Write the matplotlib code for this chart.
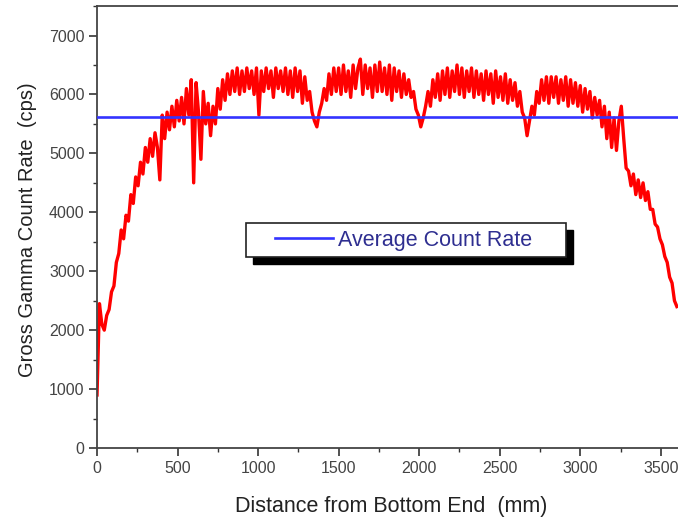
import numpy as np
import matplotlib
matplotlib.use("Agg")
import matplotlib.pyplot as plt
from matplotlib.patches import Rectangle
from matplotlib.ticker import MultipleLocator

plt.rcParams['font.family'] = ['Liberation Sans', 'DejaVu Sans']

# distance along the rod (mm), one reading every 15 mm
distance = np.arange(0, 3601, 15)

# gross gamma count rate (cps)
count_rate = [
    900, 2450, 2100, 2000, 2250, 2350, 2650, 2750, 3150, 3300,
    3700, 3550, 3950, 3850, 4300, 4150, 4600, 4450, 4850, 4650,
    5100, 4850, 5250, 4950, 5350, 5100, 4550, 5650, 5250, 5700,
    5400, 5800, 5450, 5900, 5550, 5950, 5500, 6100, 5650, 6250,
    4500, 6200, 5700, 4900, 6050, 5500, 5850, 5300, 5800, 5500,
    6100, 5750, 6250, 5900, 6350, 6000, 6400, 6050, 6450, 6000,
    6400, 6050, 6450, 6100, 6400, 6000, 6450, 5650, 6400, 6050,
    6450, 6100, 6400, 5950, 6450, 6100, 6400, 6050, 6450, 6000,
    6400, 5950, 6450, 6050, 6400, 5850, 6300, 5900, 6050, 5700,
    5550, 5450, 5700, 5850, 6100, 5900, 6350, 6000, 6450, 6050,
    6450, 6000, 6500, 6050, 6400, 5950, 6500, 6100, 6450, 6600,
    6000, 6500, 6100, 6450, 5950, 6500, 6050, 6550, 6050, 6450,
    6000, 6500, 5900, 6450, 6050, 6400, 5950, 6350, 6000, 6250,
    5950, 6050, 5750, 5650, 5450, 5600, 5800, 6050, 5800, 6250,
    5950, 6350, 5900, 6400, 6000, 6450, 5950, 6400, 6050, 6500,
    6000, 6450, 5950, 6400, 6050, 6450, 5950, 6400, 6000, 6350,
    5900, 6400, 6000, 6350, 5850, 6400, 5950, 6300, 5900, 6350,
    5850, 6250, 5900, 6200, 5800, 6050, 5700, 5600, 5300, 5550,
    5800, 5650, 6050, 5850, 6250, 5900, 6300, 5850, 6300, 5950,
    6300, 5850, 6250, 5900, 6300, 5800, 6250, 5850, 6200, 5800,
    6150, 5700, 6100, 5750, 6050, 5600, 5950, 5650, 5900, 5450,
    5800, 5250, 5700, 5100, 5600, 5050, 5550, 5800, 5250, 4750,
    4700, 4450, 4650, 4300, 4550, 4250, 4500, 4200, 4350, 4050,
    4050, 3800, 3750, 3550, 3450, 3250, 3150, 2900, 2800, 2500,
    2400,
]

average_rate = 5620

fig = plt.figure(figsize=(6.78, 5.23), dpi=100)
ax = fig.add_axes([0.1431, 0.1434, 0.879, 0.845])

ax.plot(distance, count_rate, color='#ff0000', lw=2.4, zorder=2)
avg_line = ax.axhline(average_rate, color='#3333ff', lw=1.9, zorder=3,
                      label='Average Count Rate')

ax.set_xlim(0, 3700)
ax.set_ylim(0, 7500)
ax.xaxis.set_major_locator(MultipleLocator(500))
ax.xaxis.set_minor_locator(MultipleLocator(250))
ax.yaxis.set_major_locator(MultipleLocator(1000))
ax.yaxis.set_minor_locator(MultipleLocator(500))
ax.tick_params(which='major', direction='out', length=6, width=1.2,
               color='#333333', labelsize=11.5, labelcolor='#444444', pad=3)
ax.tick_params(which='minor', direction='out', length=3, width=1.0, color='#333333')
for sp in ax.spines.values():
    sp.set_color('#444444')
    sp.set_linewidth(1.3)

ax.set_xlabel('Distance from Bottom End  (mm)', fontsize=15.5, color='#222222')
ax.set_ylabel('Gross Gamma Count Rate  (cps)', fontsize=14.5, color='#222222')
ax.xaxis.set_label_coords(0.493, -0.108)
ax.yaxis.set_label_coords(-0.101, 0.493)

# legend box with a solid black drop shadow
box_x, box_y, box_w, box_h = 0.25, 0.432, 0.537, 0.077
ax.add_patch(Rectangle((box_x + 0.012, box_y - 0.016), box_w, box_h,
                       transform=ax.transAxes, facecolor='black',
                       edgecolor='black', zorder=4))
ax.add_patch(Rectangle((box_x, box_y), box_w, box_h, transform=ax.transAxes,
                       facecolor='white', edgecolor='#222222', lw=1.2, zorder=5))
leg = ax.legend(handles=[avg_line], loc='center left',
                bbox_to_anchor=(0.298, 0.470), frameon=False, fontsize=15.5,
                handlelength=2.7, handletextpad=0.25, borderpad=0,
                borderaxespad=0, labelcolor='#2e2e90')
leg.set_zorder(6)

fig.savefig('out.png', dpi=100)
